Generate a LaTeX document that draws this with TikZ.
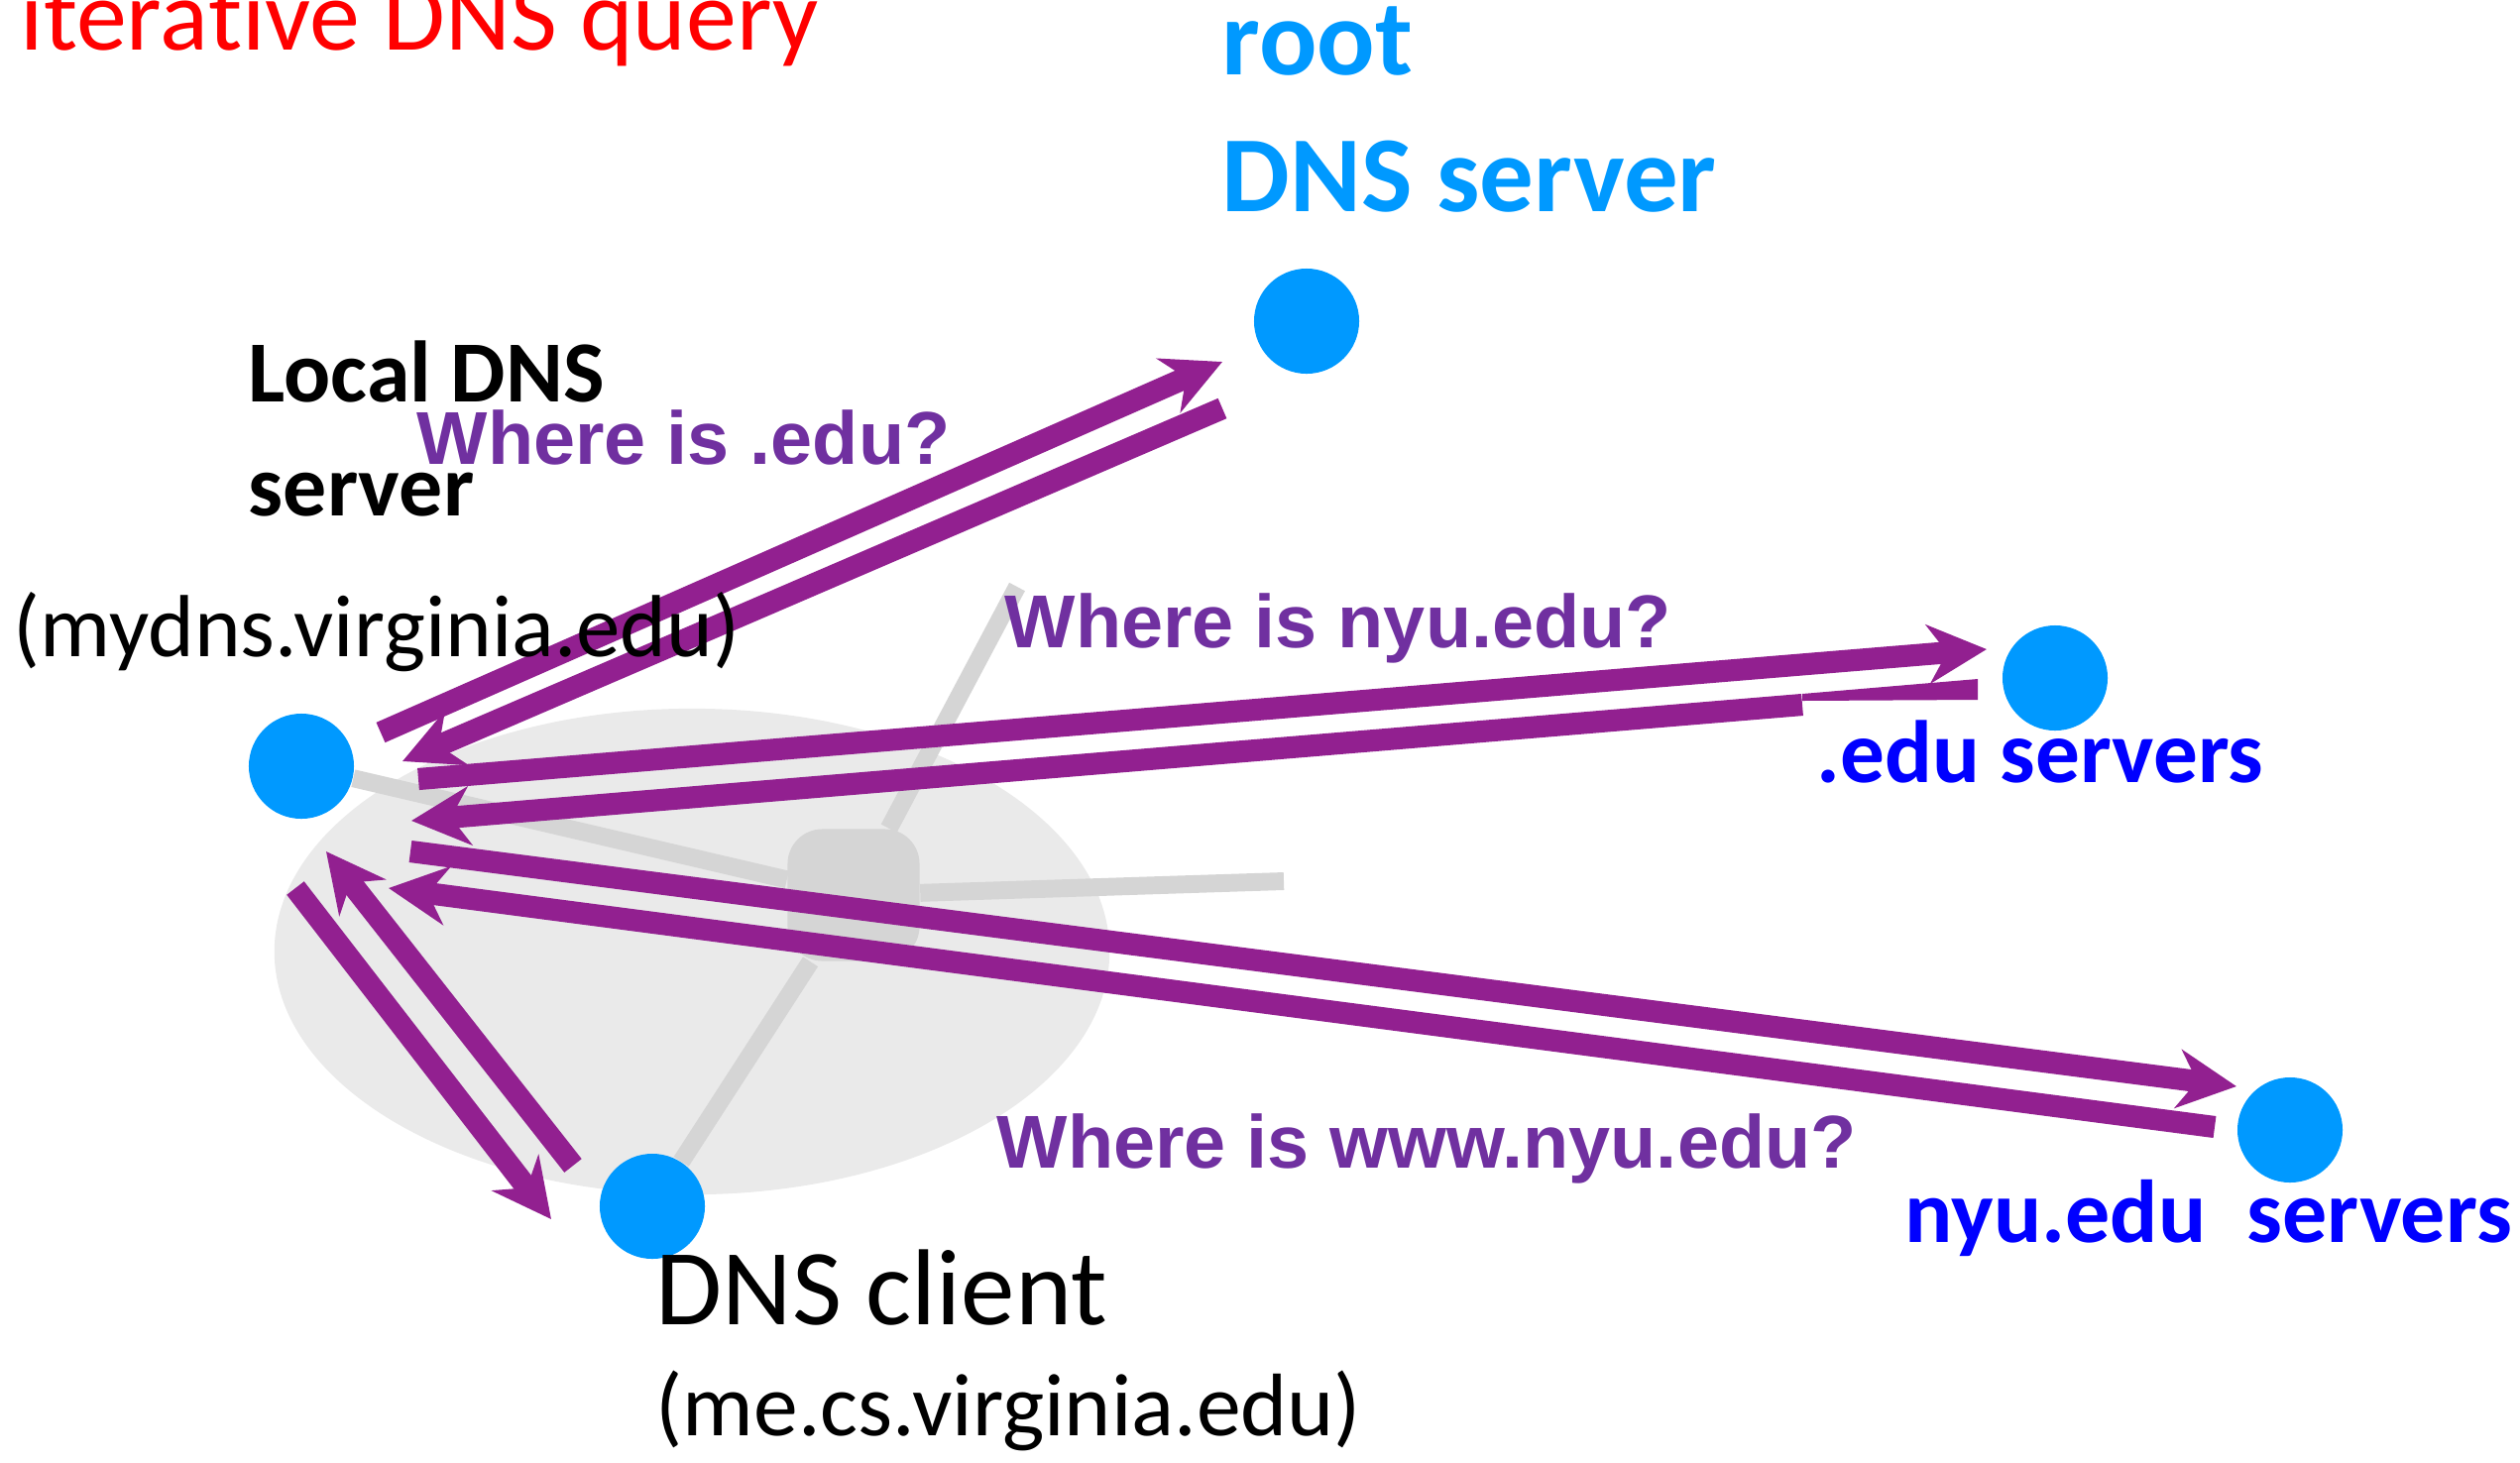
\documentclass[tikz,border=0pt]{standalone}
\usepackage{fontspec}
\setmainfont{Carlito}[Ligatures={NoCommon,NoContextual}]
\newfontfamily\askfont{Liberation Sans}
\usetikzlibrary{arrows.meta}

\definecolor{srvblue}{RGB}{0,153,255}
\definecolor{askpurple}{RGB}{112,48,160}
\definecolor{msgpurple}{RGB}{146,32,144}
\definecolor{lanfill}{RGB}{234,234,234}
\definecolor{langray}{RGB}{213,213,213}

\tikzset{
  srv/.style={circle, fill=srvblue, minimum size=1.06cm, inner sep=0pt},
  router/.style={fill=langray, rounded corners=0.35cm, minimum width=1.33cm, minimum height=1.33cm, inner sep=0pt},
  link/.style={langray, line width=5.1pt},
  msg/.style={msgpurple, line width=6.3pt, -{Stealth[length=5.9mm, width=5.9mm, inset=1.9mm]}},
  txt/.style={anchor=base west, inner sep=0pt},
  ask/.style={txt, text=askpurple, font=\askfont\bfseries\fontsize{21.5}{26}\selectfont},
}

\begin{document}
\begin{tikzpicture}[x=0.01cm, y=-0.01cm]
    \useasboundingbox (0,0) rectangle (2542,1475);

    % local network
    \fill[lanfill] (698,960) ellipse [x radius=4.21cm, y radius=2.45cm];
    \node[router] (rtr) at (861,903) {};

    % servers and client
    \node[srv] (root) at (1318,324) {};
    \node[srv] (local) at (304,773) {};
    \node[srv] (edu) at (2073,684) {};
    \node[srv] (nyu) at (2310,1140) {};
    \node[srv] (client) at (658,1217) {};

    % wires
    \coordinate (wireup) at (1026,592);
    \coordinate (wireright) at (1295,889);
    \draw[link] (rtr) -- (local);
    \draw[link] (rtr) -- (client);
    \draw[link] (rtr) -- (wireup);
    \draw[link] (rtr) -- (wireright);

    % query and reply ends
    \coordinate (q1a) at (384,739);   \coordinate (q1b) at (1233,365);
    \coordinate (r1a) at (1233,412);  \coordinate (r1b) at (406,768);
    \coordinate (q2a) at (422,786);   \coordinate (q2b) at (2004,655);
    \coordinate (r2a) at (1818,711);  \coordinate (r2b) at (415,828);
    \coordinate (q3a) at (414,859);   \coordinate (q3b) at (2256,1096);
    \coordinate (r3a) at (2234,1137); \coordinate (r3b) at (392,896);
    \coordinate (c1a) at (578,1176);  \coordinate (c1b) at (329,859);
    \coordinate (c2a) at (298,896);   \coordinate (c2b) at (556,1230);

    % messages
    \draw[msg] (q1a) -- (q1b);
    \draw[msg] (r1a) -- (r1b);
    \draw[msg] (q2a) -- (q2b);
    \fill[msgpurple] (1818,700) -- (1995,685) -- (1995,706) -- (1818,707) -- cycle;
    \draw[msg] (r2a) -- (r2b);
    \draw[msg] (q3a) -- (q3b);
    \draw[msg] (r3a) -- (r3b);
    \draw[msg] (c1a) -- (c1b);
    \draw[msg] (c2a) -- (c2b);

    % labels
    \node[txt, text=red, font=\fontsize{29}{35}\selectfont] (title) at (20,50) {itera\kern0pt tive DNS query};
    \node[txt, text=srvblue, font=\bfseries\fontsize{31}{37}\selectfont] (rootname) at (1232,75) {root};
    \node[txt, text=srvblue, font=\bfseries\fontsize{31}{37}\selectfont] (rootkind) at (1232,213) {DNS server};
    \node[txt, font=\bfseries\fontsize{25}{30}\selectfont] (localname) at (250,405) {Local DNS};
    \node[txt, font=\bfseries\fontsize{25}{30}\selectfont] (localkind) at (250,520) {server};
    \node[txt, font=\fontsize{25.3}{30}\selectfont] (localhost) at (13,662) {(mydns.virginia.edu)};
    \node[txt, font=\fontsize{31}{37}\selectfont] (clientname) at (661,1336) {DNS client};
    \node[txt, font=\fontsize{25.5}{30}\selectfont] (clienthost) at (661,1448) {(me.cs.virginia.edu)};
    \node[txt, text=blue, font=\bfseries\fontsize{25.4}{30}\selectfont] (eduname) at (1832,789) {.edu servers};
    \node[txt, text=blue, font=\bfseries\fontsize{25.6}{30}\selectfont] (nyuname) at (1921,1253) {nyu.edu\ \ servers};

    \node[ask] (ask1) at (420,468) {Where is .edu?};
    \node[ask] (ask2) at (1013,653) {Where is nyu.edu?};
    \node[ask] (ask3) at (1005,1178) {Where is www.nyu.edu?};

\end{tikzpicture}
\end{document}
